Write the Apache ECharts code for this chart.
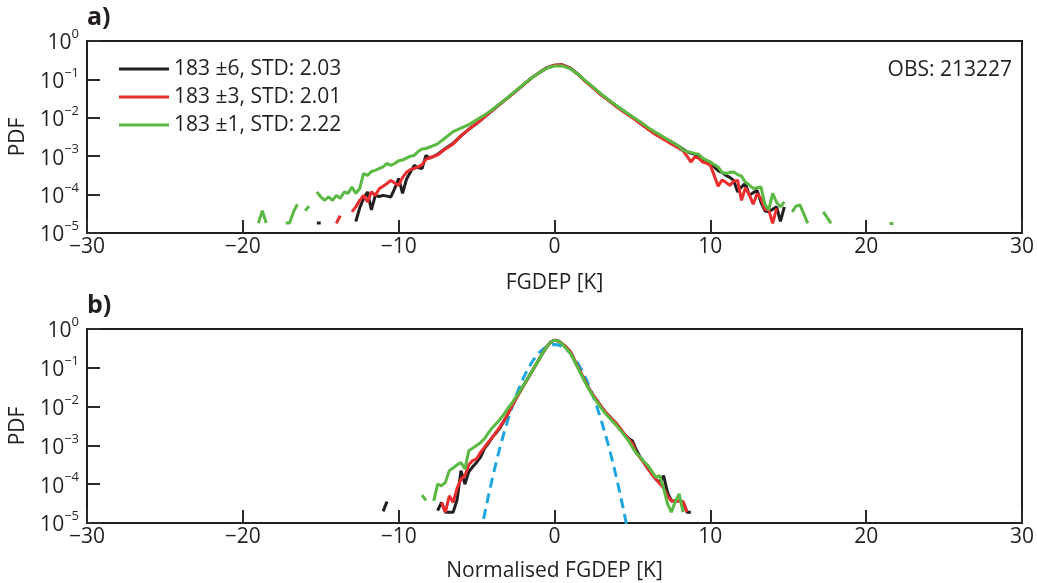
<!DOCTYPE html>
<html>
<head>
<meta charset="utf-8">
<script src="https://cdn.jsdelivr.net/npm/echarts@6/dist/echarts.min.js"></script>
<style>
html,body{margin:0;padding:0;background:#fff;}
#chart{width:1037px;height:583px;}
</style>
</head>
<body>
<div id="chart"></div>
<script>
// channel names (legend)
var seriesNames = ['183 \u00b16, STD: 2.03', '183 \u00b13, STD: 2.01', '183 \u00b11, STD: 2.22'];
var seriesColors = ['#231f20', '#ec2d2d', '#5ab942'];
var obsText = 'OBS: 213227';

// panel a) x bins [K]
var xsA = [
  -19.25,-19,-18.75,-18.5,-18.25,-18,-17.75,-17.5,-17.25,-17,-16.75,-16.5,-16.25,-16,-15.75,-15.5,
  -15.25,-15,-14.75,-14.5,-14.25,-14,-13.75,-13.5,-13.25,-13,-12.75,-12.5,-12.25,-12,-11.75,-11.5,
  -11.25,-11,-10.75,-10.5,-10.25,-10,-9.75,-9.5,-9.25,-9,-8.75,-8.5,-8.25,-8,
  -7.5,-7,-6.5,-6,-5.5,-5,-4.5,-4,-3.5,-3,-2.5,-2,-1.5,-1,-0.5,0,0.5,1,1.5,2,2.5,3,3.5,4,4.5,5,5.5,6,6.5,7,7.5,
  8,8.25,8.5,8.75,9,9.25,9.5,9.75,10,10.25,10.5,10.75,11,11.25,11.5,11.75,12,12.25,12.5,12.75,13,13.25,13.5,13.75,
  14,14.25,14.5,14.75,15,15.25,15.5,15.75,16,16.25,16.5,16.75,17,17.25,17.5,17.75,18,
  21.5,21.75
];
// panel a) log10(PDF), null = empty bin
var blackA = [
  null,null,null,null,null,null,null,null,null,null,null,null,null,null,null,null,
  -4.74,-4.74,null,null,null,null,null,null,null,null,-4.7,-4.35,-4.1,-3.93,-4.4,-4.02,
  -4.05,-4.02,-4.04,-4.06,-3.84,-3.58,-3.97,-3.6,-3.42,-3.24,-3.3,-3.32,-2.98,-3.05,
  -2.95,-2.8,-2.66,-2.47,-2.3,-2.15,-1.98,-1.81,-1.64,-1.48,-1.31,-1.14,-0.97,-0.83,-0.7,-0.63,-0.62,-0.7,-0.86,-1.05,-1.22,-1.4,-1.55,-1.7,-1.84,-1.98,-2.12,-2.27,-2.4,-2.52,-2.63,
  -2.75,-2.82,-2.88,-2.92,-2.95,-2.98,-3.08,-3.12,-3.19,-3.28,-3.38,-3.42,-3.5,-3.55,-3.63,-3.93,-3.8,-3.71,-4.02,-3.95,-3.89,-4.2,-4.42,-4.45,
  -4.38,-4.32,-4.7,-4.32,null,null,null,null,null,null,null,null,null,null,null,null,null,
  null,null
];
var redA = [
  null,null,null,null,null,null,null,null,null,null,null,null,null,null,null,null,
  null,null,null,null,null,-4.75,-4.55,null,null,-4.45,-4.32,-4.15,-4.02,-4.19,-3.93,-4.02,
  -3.85,-3.78,-3.71,-3.63,-3.7,-3.76,-3.55,-3.42,-3.35,-3.32,-3.28,-3.22,-3.08,-3.04,
  -2.97,-2.81,-2.68,-2.47,-2.3,-2.15,-1.98,-1.81,-1.64,-1.48,-1.31,-1.14,-0.97,-0.83,-0.7,-0.63,-0.62,-0.71,-0.87,-1.06,-1.23,-1.41,-1.56,-1.72,-1.86,-2.0,-2.15,-2.3,-2.44,-2.56,-2.68,
  -2.8,-2.86,-3.0,-3.15,-3.02,-3.05,-3.15,-3.18,-3.24,-3.5,-3.78,-3.62,-3.68,-3.76,-3.65,-3.63,-4.15,-3.82,-4.0,-4.25,-3.98,-4.1,-4.38,-4.4,
  -4.75,-4.36,null,null,null,null,null,null,null,null,null,null,null,null,null,null,null,
  null,null
];
var greenA = [
  null,-4.74,-4.42,-4.74,null,null,null,null,-4.74,-4.74,-4.45,-4.25,null,-4.42,-4.3,null,
  -3.93,-4.06,-4.15,-4.06,-4.15,-4.02,-4.1,-3.93,-3.97,-3.8,-3.97,-3.84,-3.45,-3.5,-3.4,-3.37,
  -3.32,-3.28,-3.19,-3.24,-3.19,-3.12,-3.1,-3.05,-3.0,-2.98,-2.88,-2.81,-2.8,-2.76,
  -2.68,-2.52,-2.36,-2.27,-2.18,-2.05,-1.93,-1.79,-1.63,-1.47,-1.3,-1.13,-0.97,-0.83,-0.71,-0.65,-0.65,-0.72,-0.86,-1.04,-1.21,-1.38,-1.54,-1.69,-1.83,-1.97,-2.1,-2.25,-2.38,-2.5,-2.62,
  -2.75,-2.84,-2.88,-2.9,-2.93,-2.95,-3.05,-3.1,-3.15,-3.22,-3.28,-3.42,-3.45,-3.42,-3.41,-3.48,-3.52,-3.68,-3.75,-3.84,-3.82,-3.8,-4.25,-4.4,
  -3.97,-4.2,-4.32,-4.19,null,-4.45,-4.3,-4.27,-4.5,-4.75,null,null,null,-4.45,-4.6,-4.75,null,
  -4.75,-4.75
];

// panel b) normalised x bins
var xsB = [
  -11.25,-11,-10.75,-10.5,
  -8.75,-8.5,-8.25,-8,-7.75,-7.5,-7.25,-7,-6.75,-6.5,-6.25,-6,-5.75,-5.5,-5.25,-5,-4.75,-4.5,-4.25,-4,
  -3.75,-3.5,-3.25,-3,-2.75,-2.5,-2.25,-2,-1.75,-1.5,-1.25,-1,-0.75,-0.5,-0.25,0,0.25,0.5,0.75,1,
  1.25,1.5,1.75,2,2.25,2.5,2.75,3,3.25,3.5,3.75,4,4.25,4.5,4.75,5,5.25,5.5,5.75,6,6.25,6.5,6.75,7,
  7.25,7.5,7.75,8,8.25,8.5,8.75
];
var blackB = [
  null,-4.7,-4.45,null,
  null,null,null,null,null,-4.68,-4.47,-4.72,-4.72,-4.72,-4.4,-3.65,-4.0,-3.68,-3.55,-3.44,-3.3,-3.08,-2.95,-2.8,
  -2.68,-2.55,-2.38,-2.2,-2.0,-1.82,-1.64,-1.47,-1.3,-1.13,-0.96,-0.79,-0.62,-0.46,-0.34,-0.29,-0.31,-0.38,-0.47,-0.58,
  -0.78,-0.98,-1.18,-1.38,-1.56,-1.72,-1.86,-2.0,-2.13,-2.24,-2.35,-2.45,-2.58,-2.72,-2.82,-2.88,-3.12,-3.3,-3.45,-3.6,-3.72,-3.87,-3.95,-3.78,
  -4.21,-4.43,-4.43,-4.43,-4.45,-4.72,-4.72
];
var redB = [
  null,null,null,null,
  null,null,null,null,null,null,-4.47,-4.72,-4.3,-4.47,-4.1,-3.87,-3.78,-3.5,-3.39,-3.35,-3.18,-3.05,-2.92,-2.8,
  -2.66,-2.52,-2.37,-2.2,-2.0,-1.82,-1.64,-1.47,-1.3,-1.13,-0.96,-0.79,-0.62,-0.46,-0.34,-0.29,-0.31,-0.38,-0.47,-0.58,
  -0.78,-0.98,-1.18,-1.38,-1.56,-1.72,-1.86,-2.0,-2.13,-2.24,-2.35,-2.45,-2.58,-2.72,-2.84,-2.95,-3.2,-3.32,-3.45,-3.6,-3.75,-3.87,-3.98,-4.1,
  -4.3,-4.43,-4.43,-4.43,-4.45,-4.72,null
];
var greenB = [
  null,null,null,null,
  null,-4.28,-4.42,null,-4.43,-4.0,-4.04,-3.95,-3.65,-3.58,-3.5,-3.44,-3.61,-3.14,-3.07,-3.0,-2.93,-2.83,-2.68,-2.55,
  -2.44,-2.33,-2.2,-2.05,-1.92,-1.77,-1.62,-1.46,-1.29,-1.12,-0.96,-0.79,-0.62,-0.46,-0.34,-0.29,-0.31,-0.39,-0.5,-0.62,
  -0.8,-1.0,-1.2,-1.4,-1.58,-1.75,-1.9,-2.04,-2.17,-2.28,-2.39,-2.5,-2.62,-2.75,-2.88,-3.05,-3.2,-3.3,-3.42,-3.52,-3.67,-3.82,-3.78,-4.1,
  -4.5,-4.72,-4.45,-4.25,-4.72,null,null
];
// reference gaussian (blue dashed), PDF values
var xsGauss = [-4.75,-4.5,-4.25,-4,-3.75,-3.5,-3.25,-3,-2.75,-2.5,-2.25,-2,-1.75,-1.5,-1.25,-1,-0.75,-0.5,-0.25,0,
  0.25,0.5,0.75,1,1.25,1.5,1.75,2,2.25,2.5,2.75,3,3.25,3.5,3.75,4,4.25,4.5,4.75];
var gaussPdf = [5.03e-6,1.60e-5,4.77e-5,1.34e-4,3.53e-4,8.73e-4,2.03e-3,4.43e-3,9.09e-3,1.75e-2,3.17e-2,5.40e-2,8.63e-2,0.1295,0.1826,0.2420,0.3011,0.3521,0.3867,0.3989,
  0.3867,0.3521,0.3011,0.2420,0.1826,0.1295,8.63e-2,5.40e-2,3.17e-2,1.75e-2,9.09e-3,4.43e-3,2.03e-3,8.73e-4,3.53e-4,1.34e-4,4.77e-5,1.60e-5,5.03e-6];

var FONT = 'Open Sans';
var INK = '#231f20';
var TICK = '#2b2b2b';

function pairs(xs, logs) {
  return xs.map(function (x, i) {
    return [x, logs[i] === null ? '-' : Math.pow(10, logs[i])];
  });
}

function xAxisCfg(idx, name, gap) {
  return {
    type: 'value', gridIndex: idx, min: -30, max: 30, interval: 10,
    name: name, nameLocation: 'middle', nameGap: gap,
    nameTextStyle: { fontFamily: FONT, fontSize: 21, color: INK },
    axisLine: { show: true, onZero: false, lineStyle: { color: INK, width: 2 } },
    axisTick: { show: true, inside: true, length: 13, lineStyle: { color: TICK, width: 2 } },
    axisLabel: {
      margin: 4, fontFamily: FONT, fontSize: 21, color: INK,
      formatter: function (v) { return v < 0 ? '\u2212' + (-v) : String(v); }
    },
    splitLine: { show: false }
  };
}

function yAxisCfg(idx) {
  return {
    type: 'log', gridIndex: idx, min: 1e-5, max: 1, logBase: 10,
    name: 'PDF', nameLocation: 'middle', nameGap: 58,
    nameTextStyle: { fontFamily: FONT, fontSize: 21, color: INK },
    axisLine: { show: true, onZero: false, lineStyle: { color: INK, width: 2 } },
    axisTick: { show: true, inside: true, length: 13, lineStyle: { color: TICK, width: 2 } },
    axisLabel: {
      margin: 8, color: INK,
      formatter: function (v) {
        var e = Math.round(Math.log(v) / Math.LN10);
        return '{b|10}{s|' + (e < 0 ? '\u2212' + (-e) : e) + '}';
      },
      rich: {
        b: { fontFamily: FONT, fontSize: 21, color: INK, lineHeight: 26, verticalAlign: 'bottom' },
        s: { fontFamily: FONT, fontSize: 13, color: INK, lineHeight: 26, verticalAlign: 'top' }
      }
    },
    splitLine: { show: false }
  };
}

function lineSeries(name, color, xs, logs, ax) {
  return {
    name: name, type: 'line', xAxisIndex: ax, yAxisIndex: ax,
    data: pairs(xs, logs), showSymbol: false, symbol: 'none',
    connectNulls: false, clip: true,
    lineStyle: { color: color, width: 3 }, itemStyle: { color: color },
    animation: false
  };
}

var chart = echarts.init(document.getElementById('chart'), null, { renderer: 'canvas' });
chart.setOption({
  backgroundColor: '#fff',
  animation: false,
  grid: [
    { left: 86, top: 41, width: 936, height: 192, show: true, borderColor: INK, borderWidth: 2 },
    { left: 86, top: 329, width: 936, height: 194, show: true, borderColor: INK, borderWidth: 2 }
  ],
  xAxis: [xAxisCfg(0, 'FGDEP [K]', 40), xAxisCfg(1, 'Normalised FGDEP [K]', 38)],
  yAxis: [yAxisCfg(0), yAxisCfg(1)],
  legend: {
    data: seriesNames, orient: 'vertical', left: 114, top: 51,
    icon: 'rect', itemWidth: 50, itemHeight: 3, itemGap: 2,
    textStyle: { fontFamily: FONT, fontSize: 21, color: INK, lineHeight: 26 }
  },
  graphic: [
    { type: 'text', left: 87, top: 5, style: { text: 'a)', font: 'bold 25px "Open Sans"', fill: INK } },
    { type: 'text', left: 87, top: 293, style: { text: 'b)', font: 'bold 25px "Open Sans"', fill: INK } },
    { type: 'text', right: 25, top: 60, style: { text: obsText, font: '21px "Open Sans"', fill: INK } }
  ],
  series: [
    lineSeries(seriesNames[0], seriesColors[0], xsA, blackA, 0),
    lineSeries(seriesNames[1], seriesColors[1], xsA, redA, 0),
    lineSeries(seriesNames[2], seriesColors[2], xsA, greenA, 0),
    {
      name: 'Gaussian', type: 'line', xAxisIndex: 1, yAxisIndex: 1,
      data: xsGauss.map(function (x, i) { return [x, gaussPdf[i]]; }),
      showSymbol: false, symbol: 'none', clip: true, z: 1,
      lineStyle: { color: '#1ea6e0', width: 3, type: [10, 6] }
    },
    lineSeries(seriesNames[0], seriesColors[0], xsB, blackB, 1),
    lineSeries(seriesNames[1], seriesColors[1], xsB, redB, 1),
    lineSeries(seriesNames[2], seriesColors[2], xsB, greenB, 1)
  ]
});
</script>
</body>
</html>
